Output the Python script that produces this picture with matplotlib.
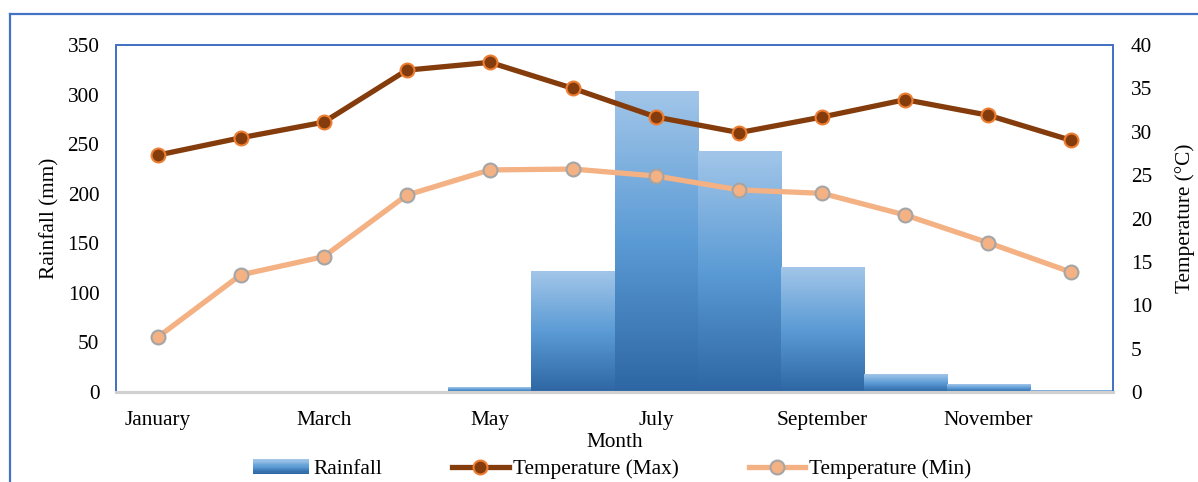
import matplotlib
matplotlib.use('Agg')
import matplotlib.pyplot as plt
import numpy
from matplotlib.colors import LinearSegmentedColormap
from matplotlib.lines import Line2D
from matplotlib.patches import Rectangle
from matplotlib.legend_handler import HandlerBase

months = ['January', 'February', 'March', 'April', 'May', 'June', 'July',
          'August', 'September', 'October', 'November', 'December']
rainfall = [0, 0, 0, 0, 5, 122, 304, 243, 126, 18, 8, 2]
temp_max = [27.3, 29.3, 31.1, 37.1, 38.0, 35.0, 31.7, 29.9, 31.7, 33.7, 31.9, 29.0]
temp_min = [6.3, 13.5, 15.6, 22.7, 25.6, 25.7, 24.9, 23.3, 22.9, 20.4, 17.2, 13.8]

plt.rcParams['font.family'] = ['Liberation Serif', 'DejaVu Serif']
plt.rcParams['font.size'] = 15.3

blue_frame = '#4472c4'
bar_cmap = LinearSegmentedColormap.from_list('bars', ['#2d66a3', '#5b9bd5', '#a2c6e9'])
grad = numpy.linspace(0, 1, 256).reshape(-1, 1)


class GradientHandler(HandlerBase):
    # legend swatch with the same vertical gradient as the bars
    def create_artists(self, legend, orig_handle, xdescent, ydescent,
                       width, height, fontsize, trans):
        n = 12
        arts = []
        for i in range(n):
            r = Rectangle((-xdescent, -ydescent + height * i / n), width,
                          height / n + 0.2, facecolor=bar_cmap(i / (n - 1)),
                          edgecolor='none', transform=trans)
            arts.append(r)
        return arts


fig = plt.figure(figsize=(11.98, 4.82), dpi=100)
ax = fig.add_axes([116 / 1198, 90 / 482, 997 / 1198, 347 / 482])
x = numpy.arange(len(months))

bars = ax.bar(x, rainfall, width=1.0, color='none', edgecolor='none', zorder=1)
for b in bars:
    h = b.get_height()
    if h <= 0:
        continue
    im = ax.imshow(grad, extent=(b.get_x(), b.get_x() + b.get_width(), 0, h),
                   origin='lower', aspect='auto', cmap=bar_cmap, zorder=1)
    im.set_clip_path(b)

ax.set_xlim(-0.5, 11.5)
ax.set_ylim(0, 350)
ax.set_yticks(numpy.arange(0, 351, 50))
ax.set_xticks(x[::2])
ax.set_xticklabels(months[::2])
ax.tick_params(axis='both', length=0)
ax.tick_params(axis='x', pad=14)
ax.tick_params(axis='y', pad=12)
ax.set_ylabel('Rainfall (mm)', labelpad=6)
ax.set_xlabel('Month', labelpad=2)

ax2 = ax.twinx()
ax2.plot(x, temp_max, '-o', color='#843c0c', lw=3.8, ms=10,
         markerfacecolor='#843c0c', markeredgecolor='#ed7d31', mew=1.5,
         label='Temperature (Max)')
ax2.plot(x, temp_min, '-o', color='#f4b183', lw=3.8, ms=10,
         markerfacecolor='#f4b183', markeredgecolor='#a5a5a5', mew=1.5,
         label='Temperature (Min)')
ax2.set_ylim(0, 40)
ax2.set_yticks(numpy.arange(0, 41, 5))
ax2.tick_params(axis='y', length=0, pad=13)
ax2.set_ylabel('Temperature (°C)', rotation=90, labelpad=16)

for a in (ax, ax2):
    for side in ('top', 'left', 'right'):
        a.spines[side].set_color(blue_frame)
        a.spines[side].set_linewidth(1.3)
    a.spines['bottom'].set_color('#d0d0d0')
    a.spines['bottom'].set_linewidth(2.2)

# outer chart border
fig.add_artist(Line2D([10 / 1198, 1.0], [1 - 14 / 482] * 2, color=blue_frame, lw=1.6))
fig.add_artist(Line2D([10 / 1198] * 2, [0.0, 1 - 14 / 482], color=blue_frame, lw=1.6))

handles = [Rectangle((0, 0), 1, 1)] + ax2.get_lines()
labels = ['Rainfall', 'Temperature (Max)', 'Temperature (Min)']
fig.legend(handles, labels, loc='center', bbox_to_anchor=(612 / 1198, 1 - 469 / 482),
           ncol=3, frameon=False, handlelength=2.65, handletextpad=0.2,
           columnspacing=3.3, handler_map={Rectangle: GradientHandler()})

fig.savefig('out.png', dpi=100)
